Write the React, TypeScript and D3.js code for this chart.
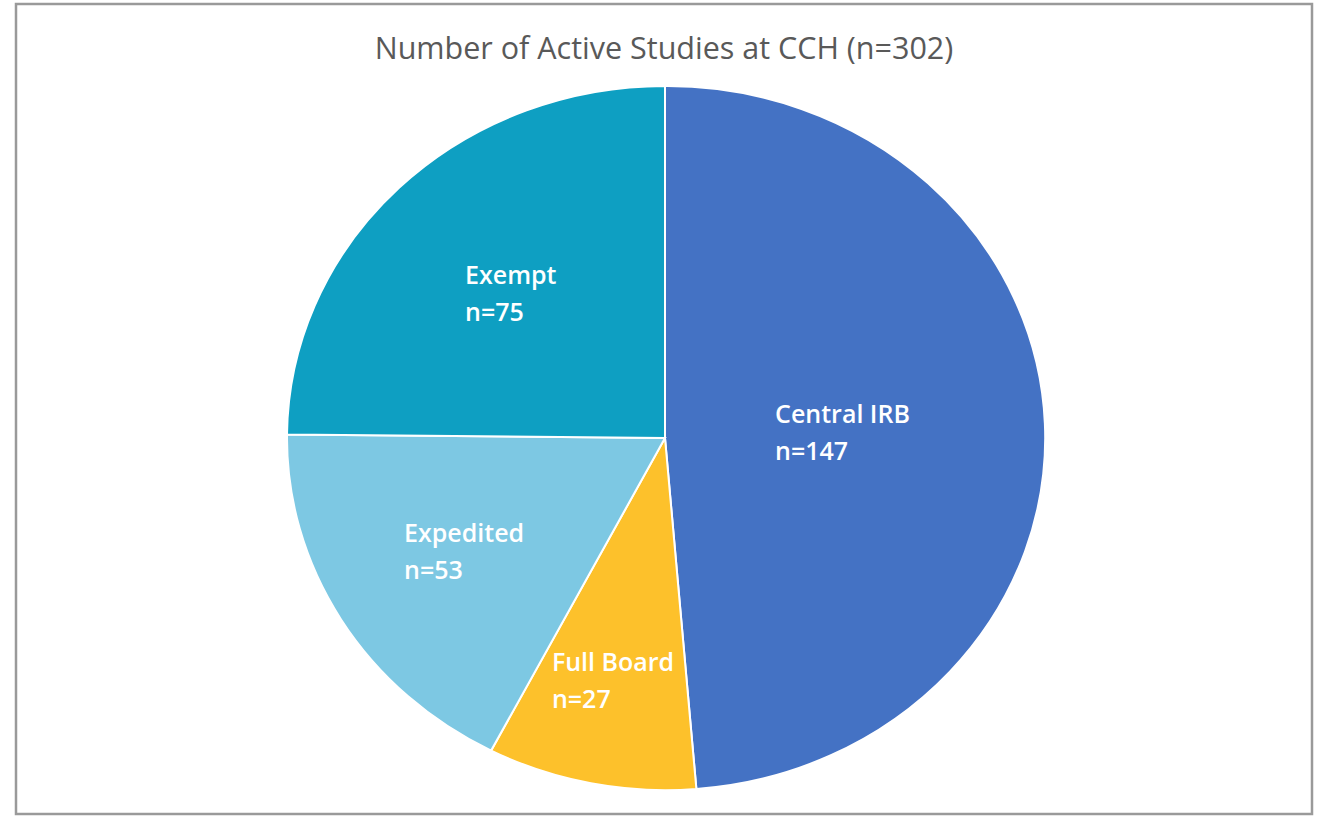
import React, { useEffect, useRef } from 'react'
import * as d3 from 'd3'

const categories = ['Central IRB', 'Full Board', 'Expedited', 'Exempt']
const counts = [147, 27, 53, 75]
const colors = ['#4472C4', '#FDC12B', '#7DC8E3', '#0E9FC2']
// how far out along the slice each label block sits (fraction of radius)
const labelFactor = [0.47, 0.7, 0.62, 0.58]

const W = 1324
const H = 816

const App = () => {
  const ref = useRef<SVGSVGElement>(null)

  useEffect(() => {
    draw()
  })

  const draw = () => {
    const svg = d3.select(ref.current)
    svg.selectAll('*').remove()

    svg
      .append('rect')
      .attr('x', 16)
      .attr('y', 4)
      .attr('width', 1296)
      .attr('height', 810)
      .attr('fill', '#fff')
      .attr('stroke', '#9a9a9a')
      .attr('stroke-width', 2.5)

    svg
      .append('text')
      .attr('x', 664)
      .attr('y', 59)
      .attr('text-anchor', 'middle')
      .style('font-family', '"Open Sans", sans-serif')
      .style('font-size', '30.5px')
      .attr('fill', '#595959')
      .text(`Number of Active Studies at CCH (n=${d3.sum(counts)})`)

    const cx = 665
    const cy = 438
    const rx = 378
    const ry = 352

    const data = categories.map((c, i) => ({ name: c, value: counts[i], i }))
    const pie = d3.pie<any>().value((d) => d.value).sort(null)
    const arcs = pie(data)
    const arc = d3.arc<any>().innerRadius(0).outerRadius(1)

    const g = svg.append('g').attr('transform', `translate(${cx},${cy})`)

    g.append('g')
      .attr('transform', `scale(${rx},${ry})`)
      .selectAll('path')
      .data(arcs)
      .enter()
      .append('path')
      .attr('d', (d) => arc(d) as string)
      .attr('fill', (d) => colors[d.data.i])
      .attr('stroke', '#fff')
      .attr('stroke-width', 2)
      .attr('vector-effect', 'non-scaling-stroke')

    arcs.forEach((d) => {
      const mid = (d.startAngle + d.endAngle) / 2
      const f = labelFactor[d.data.i]
      const px = Math.sin(mid) * f * rx
      const py = -Math.cos(mid) * f * ry
      const t = g
        .append('text')
        .style('font-family', '"Open Sans", sans-serif')
        .style('font-size', '25px')
        .style('font-weight', 600)
        .attr('fill', '#fff')
      t.append('tspan').attr('x', 0).attr('y', 0).text(d.data.name)
      t.append('tspan').attr('x', 0).attr('y', 37).text(`n=${d.data.value}`)
      const bb = (t.node() as SVGTextElement).getBBox()
      t.attr(
        'transform',
        `translate(${px - bb.x - bb.width / 2},${py - bb.y - bb.height / 2})`
      )
    })
  }

  return (
    <svg
      ref={ref}
      width={W}
      height={H}
      style={{ display: 'block', position: 'absolute', left: 0, top: 0 }}
    />
  )
}

export default App
